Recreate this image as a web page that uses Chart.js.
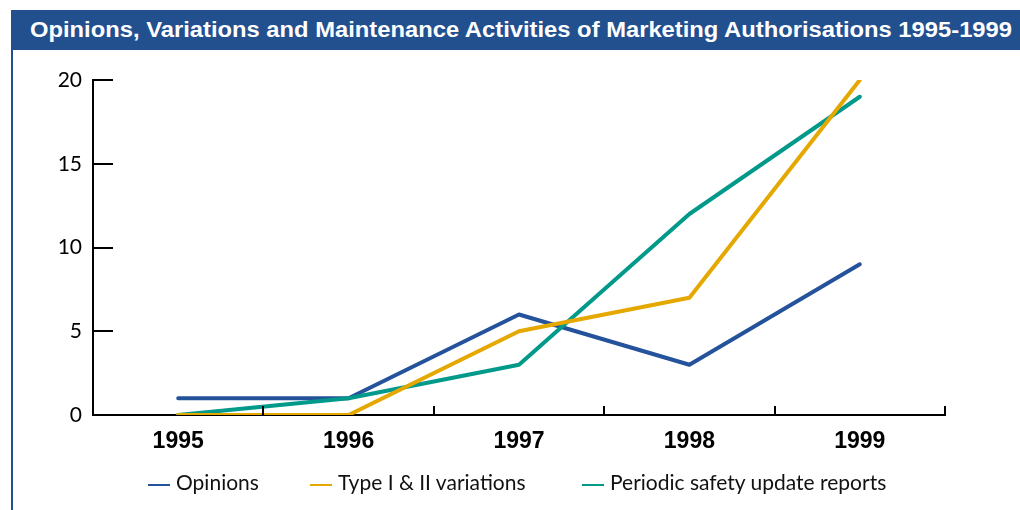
<!DOCTYPE html>
<html>
<head>
<meta charset="utf-8">
<script src="https://cdn.jsdelivr.net/npm/chart.js@4/dist/chart.umd.min.js"></script>
<style>
  body { margin: 0; background: #fff; width: 1020px; height: 510px; overflow: hidden; position: relative; }
  #title {
    position: absolute; left: 11px; top: 10px; width: 1009px; height: 40px;
    background: #22508f; overflow: hidden;
  }
  #title span {
    position: absolute; left: 19px; top: 7px; color: #fff; line-height: 40px;
    font: bold 22px "Liberation Sans", sans-serif; white-space: nowrap;
    transform-origin: 0 50%;
  }
  #rule { position: absolute; left: 11px; top: 50px; width: 2px; height: 460px; background: #22508f; }
  #wrap { position: absolute; left: 0; top: 0; width: 1020px; height: 510px; }
  #legend {
    position: absolute; top: 470px; left: 0; width: 1020px; height: 26px;
    font: 21px Lato, sans-serif; color: #111;
  }
  #legend span.item { position: absolute; top: 0; line-height: 24px; white-space: nowrap; }
  #legend span.swatch { display: inline-block; width: 22px; height: 2px; vertical-align: middle; margin-right: 6px; }
</style>
</head>
<body>
<div id="title"><span>Opinions, Variations and Maintenance Activities of Marketing Authorisations 1995-1999</span></div>
<div id="rule"></div>
<div id="wrap"><canvas id="chart" width="1020" height="510"></canvas></div>
<div id="legend"></div>
<script>
// chart values
const years = ["1995", "1996", "1997", "1998", "1999"];
const opinions = [1, 1, 6, 3, 9];
const variations = [0, 0, 5, 7, 20];
const safetyReports = [0, 1, 3, 12, 19];
const yTicks = [0, 5, 10, 15, 20];

const seriesNames = ["Opinions", "Type I & II variations", "Periodic safety update reports"];
const seriesColors = ["#24529b", "#e5a800", "#00998a"];
const legendLeft = [148, 310, 582];

// stretch the title to span the bar like the original typeface does
const titleText = document.querySelector("#title span");
titleText.style.transform = `scaleX(${982 / titleText.getBoundingClientRect().width})`;

// little tick marks pointing into the plot, like the printed original
const innerTicks = {
  id: "innerTicks",
  afterDraw(chart) {
    const { ctx, scales: { x, y } } = chart;
    ctx.save();
    ctx.strokeStyle = "#000";
    ctx.lineWidth = 2;
    ctx.beginPath();
    y.ticks.forEach((t) => {
      const py = Math.round(y.getPixelForValue(t.value));
      ctx.moveTo(x.left, py);
      ctx.lineTo(x.left + 20, py);
    });
    for (let i = 0; i < years.length; i++) {
      const px = i < years.length - 1
        ? (x.getPixelForTick(i) + x.getPixelForTick(i + 1)) / 2
        : x.right;
      ctx.moveTo(Math.round(px), y.bottom);
      ctx.lineTo(Math.round(px), y.bottom - 9);
    }
    ctx.stroke();
    ctx.restore();
  },
};

new Chart(document.getElementById("chart"), {
  type: "line",
  data: {
    labels: years,
    datasets: [
      { label: seriesNames[0], data: opinions, borderColor: seriesColors[0], order: 3 },
      { label: seriesNames[1], data: variations, borderColor: seriesColors[1], order: 1 },
      { label: seriesNames[2], data: safetyReports, borderColor: seriesColors[2], order: 2 },
    ].map((d) => ({ ...d, borderWidth: 4, pointRadius: 0, tension: 0, fill: false, borderCapStyle: "round", borderJoinStyle: "round" })),
  },
  options: {
    responsive: false,
    animation: false,
    layout: { padding: { left: 0, top: 80, right: 75, bottom: 0 } },
    plugins: { legend: { display: false }, tooltip: { enabled: false } },
    scales: {
      x: {
        offset: true,
        grid: { display: false, drawTicks: false },
        border: { color: "#000", width: 2 },
        ticks: { color: "#000", padding: 13, font: { family: "Liberation Sans", weight: "bold", size: 23 } },
        afterFit: (s) => { s.height = 95; },
      },
      y: {
        min: 0,
        max: 20,
        afterBuildTicks: (s) => { s.ticks = yTicks.map((v) => ({ value: v })); },
        grid: { display: false, drawTicks: false },
        border: { color: "#000", width: 2 },
        ticks: { color: "#000", padding: 11, font: { family: "Lato", size: 21 } },
        afterFit: (s) => { s.width = 93; },
      },
    },
  },
  plugins: [innerTicks],
});

const legend = document.getElementById("legend");
seriesNames.forEach((name, i) => {
  const item = document.createElement("span");
  item.className = "item";
  item.style.left = legendLeft[i] + "px";
  const sw = document.createElement("span");
  sw.className = "swatch";
  sw.style.background = seriesColors[i];
  item.appendChild(sw);
  item.appendChild(document.createTextNode(name));
  legend.appendChild(item);
});
</script>
</body>
</html>
